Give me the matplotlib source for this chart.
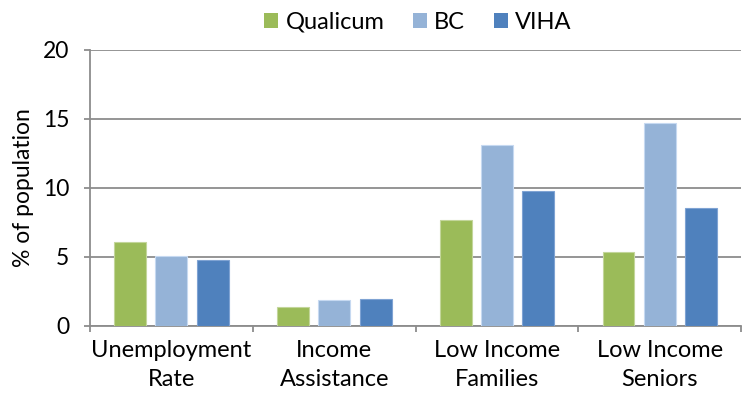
import matplotlib
matplotlib.use("Agg")
import matplotlib.pyplot as plt
import numpy as np
from matplotlib.patches import Patch

categories = ["Unemployment\nRate", "Income\nAssistance", "Low Income\nFamilies", "Low Income\nSeniors"]
series_names = ["Qualicum", "BC", "VIHA"]
qualicum = [6.1, 1.35, 7.7, 5.35]
bc = [5.1, 1.9, 13.1, 14.7]
viha = [4.8, 1.95, 9.8, 8.55]
colors = ["#9BBB59", "#95B3D7", "#4F81BD"]
edges = ["#C3D69B", "#C6D9F1", "#7FA3D3"]
yticks = [0, 5, 10, 15, 20]

plt.rcParams['font.family'] = ['Lato', 'DejaVu Sans']

fig = plt.figure(figsize=(7.46, 4.08), dpi=100)
ax = fig.add_axes([0.1206, 0.201, 0.873, 0.6765])

x = np.arange(len(categories))
offsets = [-0.254, 0, 0.254]
width = 0.196
for vals, off, c, e in zip([qualicum, bc, viha], offsets, colors, edges):
    ax.bar(x + off, vals, width=width, color=c, edgecolor=e, linewidth=0.8, zorder=3)

ax.set_xlim(-0.5, len(categories) - 0.5)
ax.set_ylim(0, 20)
ax.set_yticks(yticks)
ax.yaxis.grid(True, color="#8C8C8C", linewidth=1.3, zorder=0)
ax.set_axisbelow(True)

ax.set_xticks(np.arange(-0.5, len(categories), 1.0))
ax.set_xticklabels([])
ax.set_xticks(x, minor=True)
ax.set_xticklabels(categories, minor=True, fontsize=17, color="#000000", linespacing=1.5)
ax.tick_params(axis='x', which='minor', length=0, pad=10)
ax.tick_params(axis='x', which='major', length=4, width=1.3, color="#8C8C8C", direction='out')
ax.tick_params(axis='y', length=4, width=1.3, color="#8C8C8C", labelsize=16.5, pad=11)

for s in ["top", "right"]:
    ax.spines[s].set_visible(False)
for s in ["left", "bottom"]:
    ax.spines[s].set_color("#8C8C8C")
    ax.spines[s].set_linewidth(1.3)

ax.set_ylabel("% of population", fontsize=16.5, labelpad=6)

handles = [Patch(facecolor=c, edgecolor='none') for c in colors]
fig.legend(handles, series_names, loc='center', bbox_to_anchor=(0.56, 0.946), ncol=3,
           frameon=False, fontsize=17, handlelength=0.62, handleheight=0.62,
           handletextpad=0.3, columnspacing=1.2)

fig.savefig("out.png", dpi=100)
